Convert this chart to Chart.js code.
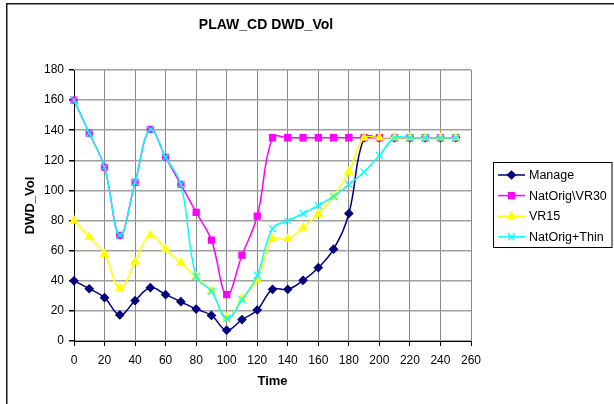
<!DOCTYPE html>
<html>
<head>
<meta charset="utf-8">
<script src="https://cdn.jsdelivr.net/npm/chart.js@4/dist/chart.umd.min.js"></script>
<style>
html,body{margin:0;padding:0;background:#fff;}
#wrap{position:relative;width:614px;height:404px;}
</style>
</head>
<body>
<div id="wrap"><canvas id="c" width="614" height="404"></canvas></div>
<script>
// ---- data ----
const time = [0,10,20,30,40,50,60,70,80,90,100,110,120,130,140,150,160,170,180,190,200,210,220,230,240,250];
const manage = [40,34.7,28.8,17.3,26.8,35.4,30.8,26.1,21.2,17,7.2,14.2,20.6,34.3,34.3,40.3,48.7,61,84.7,135,135,135,135,135,135,135];
const natOrigVR30 = [160,138,115.3,70.2,105.4,140.5,122,104,85.4,67,30.8,57,83,135,135,135,135,135,135,135,135,135,135,135,135,135];
const vr15 = [80,69,57.7,35,52.5,70.2,60.9,51.9,42.5,33.3,15.5,28,40.8,67.7,67.7,75.2,84.3,95.8,112.3,135,135,135,135,135,135,135];
const natOrigThin = [160,138,115.3,70.2,105.4,140.5,122,104,43,33.2,14.9,27.5,43.7,74.7,79.8,84.7,90,96,104,112.3,123.2,135,135,135,135,135];
const seriesNames = ['Manage','NatOrig\\VR30','VR15','NatOrig+Thin'];
const xTicks = {min:0, max:260, step:20};
const yTicks = {min:0, max:180, step:20};
const chartTitle = 'PLAW_CD DWD_Vol';
const xTitle = 'Time';
const yTitle = 'DWD_Vol';

const FONT = "'Liberation Sans', Arial, sans-serif";
const toPts = ys => ys.map((y,i)=>({x:time[i], y:y}));

const styles = [
  {color:'#000080', point:'rectRot', radius:4, fill:'#000080'},
  {color:'#FF00FF', point:'rect', radius:4.3, fill:'#FF00FF'},
  {color:'#FFFF00', point:'triangle', radius:4.5, fill:'#FFFF00'},
  {color:'#00FFFF', point:'crossRot', radius:5, fill:'#00FFFF'}
];
const values = [manage, natOrigVR30, vr15, natOrigThin];

const datasets = values.map((v,i)=>({
  label: seriesNames[i],
  data: toPts(v),
  showLine: true,
  borderColor: styles[i].color,
  backgroundColor: styles[i].fill,
  borderWidth: 1.5,
  pointStyle: styles[i].point,
  pointRadius: styles[i].radius,
  pointBorderWidth: 1.2,
  pointBorderColor: styles[i].color,
  pointBackgroundColor: styles[i].fill,
  tension: 0.4,
  clip: false,
  order: 3 - i
}));

const frameAndLegend = {
  id: 'frameAndLegend',
  beforeDraw(chart){
    const ctx = chart.ctx;
    ctx.save();
    ctx.fillStyle = '#fff';
    ctx.fillRect(0,0,chart.width,chart.height);
    ctx.strokeStyle = '#1a1a1a';
    ctx.lineWidth = 1.5;
    ctx.strokeRect(6.75, 3.75, 700, 500);
    ctx.restore();
  },
  afterDraw(chart){
    const ctx = chart.ctx;
    ctx.save();
    // legend box
    ctx.strokeStyle = '#000';
    ctx.lineWidth = 1;
    ctx.strokeRect(493.5, 162.5, 118.5, 85);
    ctx.font = '12.5px ' + FONT;
    ctx.textBaseline = 'middle';
    ctx.textAlign = 'left';
    chart.data.datasets.forEach((ds,i)=>{
      const y = 175 + i*20.6;
      ctx.strokeStyle = ds.borderColor;
      ctx.lineWidth = 1.5;
      ctx.beginPath(); ctx.moveTo(498,y); ctx.lineTo(525,y); ctx.stroke();
      ctx.fillStyle = ds.pointBackgroundColor;
      ctx.strokeStyle = ds.pointBorderColor;
      ctx.lineWidth = 1.2;
      Chart.helpers.drawPoint(ctx, {pointStyle: ds.pointStyle, radius: ds.pointRadius, rotation: 0, borderWidth: 1.2}, 511.5, y);
      ctx.fillStyle = '#000';
      ctx.fillText(ds.label, 529, y + 0.5);
    });
    ctx.restore();
  }
};

new Chart(document.getElementById('c'), {
  type: 'scatter',
  data: { datasets },
  plugins: [frameAndLegend],
  options: {
    responsive: false,
    animation: false,
    layout: { padding: { left: 7, right: 89, top: 0, bottom: 0 } },
    plugins: {
      legend: { display: false },
      tooltip: { enabled: false },
      title: {
        display: true,
        text: chartTitle,
        color: '#000',
        font: { family: FONT, size: 14, weight: 'bold' },
        padding: { top: 16.6, bottom: 36.6 }
      }
    },
    scales: {
      x: {
        type: 'linear',
        min: xTicks.min, max: xTicks.max,
        ticks: { stepSize: xTicks.step, color: '#000', font: { family: FONT, size: 12 }, padding: 7, maxRotation: 0, autoSkip: false },
        grid: { color: '#8a8a8a', lineWidth: 1, tickColor: '#000', tickLength: 5 },
        border: { color: '#000', width: 1 },
        title: { display: true, text: xTitle, color: '#000', font: { family: FONT, size: 13, weight: 'bold' }, padding: { top: 0, bottom: 15.2 } },
        afterFit(s){ s.height = 63; }
      },
      y: {
        type: 'linear',
        min: yTicks.min, max: yTicks.max,
        ticks: { stepSize: yTicks.step, color: '#000', font: { family: FONT, size: 12 }, padding: 5 },
        grid: { color: '#a0a0a0', lineWidth: 1.5, tickColor: '#000', tickLength: 5 },
        border: { color: '#000', width: 1 },
        title: { display: true, text: yTitle, color: '#000', font: { family: FONT, size: 13, weight: 'bold' }, padding: { top: 15.2, bottom: 0 } },
        afterFit(s){ s.width = 67; }
      },
      pad: {
        type: 'linear',
        position: 'right',
        display: true,
        grid: { display: false, drawTicks: false },
        border: { display: false },
        ticks: { display: false },
        afterFit(s){ s.width = 54; }
      }
    }
  }
});
</script>
</body>
</html>
